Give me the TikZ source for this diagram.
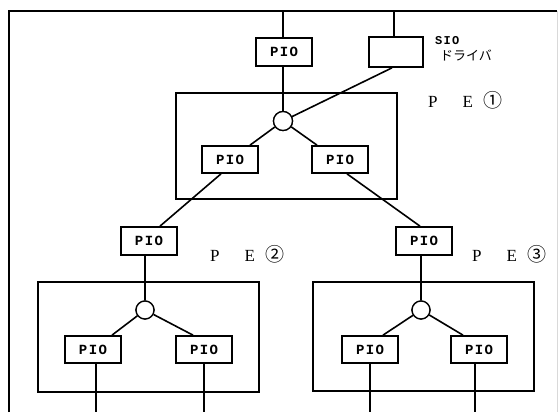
\documentclass[tikz,border=0pt]{standalone}
\usepackage{fontspec}
\setmainfont{Liberation Serif}
\newfontfamily\cjk{Noto Sans CJK JP}
\newfontfamily\piofont[LetterSpace=10]{Liberation Mono}
\usetikzlibrary{calc}
\begin{document}
\begin{tikzpicture}[x=1pt,y=-1pt,
  pio/.style={draw, line width=1.7pt, fill=white, minimum width=56pt, minimum height=28pt, inner sep=0pt, font=\piofont\bfseries\fontsize{14}{14}\selectfont},
  hub/.style={circle, draw, line width=1.3pt, fill=white, minimum size=19pt, inner sep=0pt},
  pebox/.style={draw, line width=2.1pt, inner sep=0pt},
  wire/.style={line width=1.6pt},
  frame/.style={line width=2.6pt},
  pelabel/.style={font=\fontsize{17}{17}\selectfont, inner sep=0pt}]
\useasboundingbox (0,0) rectangle (559,412);
\fill[white] (0,0) rectangle (559,412);
% outer frame / bus
\coordinate (fl) at (9,412);
\coordinate (ftl) at (9,11);
\coordinate (ftr) at (557,11);
\coordinate (fbr) at (557,412);
\coordinate (bot) at (0,412);
\draw[frame] (fl) -- (ftl) -- (ftr);
\draw[line width=0.5pt, black!15] (ftr) -- (fbr);
% PE boxes
\node[pebox, minimum width=221pt, minimum height=106pt] (pe1) at (286.5,146) {};
\node[pebox, minimum width=221pt, minimum height=110pt] (pe2) at (148.5,337) {};
\node[pebox, minimum width=221pt, minimum height=109pt] (pe3) at (423.5,336.5) {};
% nodes
\node[pio] (p0) at (284,52) {PIO};
\node[pio, minimum width=54pt, minimum height=30pt] (sio) at (396,52) {};
\node[hub] (c1) at (283,121) {};
\node[pio, minimum height=27pt] (p1L) at (230,159.5) {PIO};
\node[pio, minimum height=27pt] (p1R) at (340,159.5) {PIO};
\node[pio] (p2T) at (149,241) {PIO};
\node[pio] (p3T) at (424,241) {PIO};
\node[hub, minimum size=18pt] (c2) at (145,310) {};
\node[hub, minimum size=18pt] (c3) at (421,310) {};
\node[pio, minimum height=27pt] (p2L) at (93,349.5) {PIO};
\node[pio, minimum height=27pt] (p2R) at (204,349.5) {PIO};
\node[pio, minimum height=27pt] (p3L) at (370,349.5) {PIO};
\node[pio, minimum height=27pt] (p3R) at (479,349.5) {PIO};
% bus taps
\coordinate (b0) at (283,11);
\coordinate (b1) at (394,11);
\draw[wire] (b0) -- (p0.north -| b0);
\draw[wire] (b1) -- (sio.north -| b1);
% wires
\draw[wire] (p0.south -| c1) -- (c1);
\draw[wire] ($(sio.south)+(-4,0)$) -- (c1);
\draw[wire] (c1) -- ($(p1L.north)+(20,0)$);
\draw[wire] (c1) -- ($(p1R.north)+(-23,0)$);
\draw[wire] ($(p1L.south)+(-9,0)$) -- ($(p2T.north)+(11,0)$);
\draw[wire] ($(p1R.south)+(7,0)$) -- ($(p3T.north)+(-4,0)$);
\draw[wire] (p2T.south -| c2) -- (c2);
\draw[wire] (p3T.south -| c3) -- (c3);
\draw[wire] (c2) -- ($(p2L.north)+(19,0)$);
\draw[wire] (c2) -- ($(p2R.north)+(-11,0)$);
\draw[wire] (c3) -- ($(p3L.north)+(13,0)$);
\draw[wire] (c3) -- ($(p3R.north)+(-16,0)$);
\draw[wire] ($(p2L.south)+(3,0)$) -- ($(p2L.south |- bot)+(3,0)$);
\draw[wire] (p2R.south) -- (p2R.south |- bot);
\draw[wire] (p3L.south) -- (p3L.south |- bot);
\draw[wire] ($(p3R.south)+(-4,0)$) -- ($(p3R.south |- bot)+(-4,0)$);
% redraw nodes on top
\node[pio] at (p0) {PIO};
\node[hub] at (c1) {};
\node[hub, minimum size=18pt] at (c2) {};
\node[hub, minimum size=18pt] at (c3) {};
% labels
\node[anchor=west, inner sep=0pt, font=\piofont\bfseries\fontsize{12}{12}\selectfont] (siolbl) at (435,41) {SIO};
\node[anchor=west, inner sep=0pt, font=\cjk\fontsize{13}{13}\selectfont] (drvlbl) at (440,55) {ドライバ};
\node[pelabel, anchor=west] (l1) at (428,100) {P\hspace{25pt}E\hspace{10pt}{\cjk\fontsize{19}{19}\selectfont ①}};
\node[pelabel, anchor=west] (l2) at (210,254) {P\hspace{25pt}E\hspace{10pt}{\cjk\fontsize{19}{19}\selectfont ②}};
\node[pelabel, anchor=west] (l3) at (472,254) {P\hspace{25pt}E\hspace{10pt}{\cjk\fontsize{19}{19}\selectfont ③}};
\end{tikzpicture}
\end{document}
